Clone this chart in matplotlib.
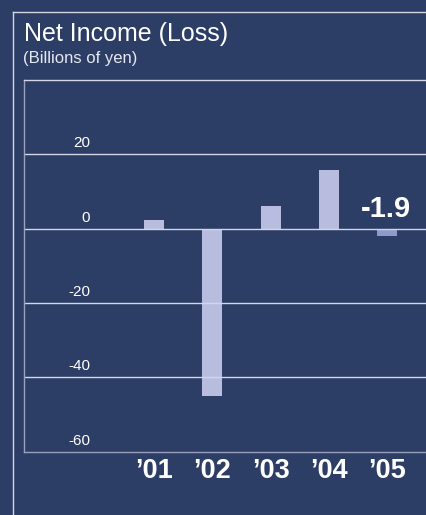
import matplotlib.pyplot as plt
from matplotlib.lines import Line2D
from matplotlib.transforms import blended_transform_factory, offset_copy

# Net income by fiscal year, billions of yen
years = ["\u201901", "\u201902", "\u201903", "\u201904", "\u201905"]
net_income = [2.4, -44.9, 6.2, 15.7, -1.9]
yticks = [20, 0, -20, -40, -60]

bg = "#2c3d66"
bar_col = "#b8bde0"
last_col = "#8f99cc"
line_col = "#d4d7e3"

plt.rcParams["font.family"] = ["Liberation Sans", "DejaVu Sans"]

fig = plt.figure(figsize=(4.27, 5.15), dpi=100, facecolor=bg)
ax = fig.add_axes([0.0562, 0.1229, 0.9438, 0.7218], facecolor=bg)

x = list(range(len(years)))
colors = [bar_col] * (len(years) - 1) + [last_col]
ax.bar(x, net_income, width=0.343, color=colors, zorder=1)

ax.set_xlim(-2.23, 4.68)
ax.set_ylim(-60, 40)

# horizontal rules
for v in [20, 0, -20, -40]:
    ax.axhline(v, color=line_col, lw=1.0, zorder=2)

ax.spines["right"].set_visible(False)
ax.spines["top"].set_color(line_col)
ax.spines["left"].set_color("#9aa1bd")
ax.spines["bottom"].set_color("#9aa1bd")
for side in ["top", "left", "bottom"]:
    ax.spines[side].set_linewidth(1.0)
ax.set_xticks([])
ax.set_yticks([])

# tick labels sit above their rule
trans = blended_transform_factory(fig.transFigure, ax.transData)
trans = offset_copy(trans, fig=fig, x=0, y=4, units="dots")
for v in yticks:
    ax.text(90 / 427, v, str(v), transform=trans, ha="right", va="bottom",
            color="white", fontsize=11)

# year labels
for xi, lab in zip(x, years):
    ax.text(xi, -60, lab, transform=offset_copy(ax.transData, fig=fig, y=-6, units="dots"),
            ha="center", va="top", color="white", fontsize=19.5, fontweight="bold")

# value callout for the latest year
ax.text(x[-1] - 0.03, 0, f"{net_income[-1]:.1f}",
        transform=offset_copy(ax.transData, fig=fig, y=6, units="dots"),
        ha="center", va="bottom", color="white", fontsize=21, fontweight="bold")

# titles
fig.text(24 / 427, 1 - 41 / 515, "Net Income (Loss)", color="white", fontsize=18,
         ha="left", va="baseline")
fig.text(23 / 427, 1 - 63 / 515, "(Billions of yen)", color="#e6e8f0", fontsize=12,
         ha="left", va="baseline")

# outer frame
fig.add_artist(Line2D([13 / 427, 13 / 427], [0, 1 - 12 / 515], color=line_col, lw=1.0,
                      transform=fig.transFigure))
fig.add_artist(Line2D([13 / 427, 1], [1 - 12 / 515, 1 - 12 / 515], color=line_col, lw=1.0,
                      transform=fig.transFigure))

fig.savefig("out.png", dpi=100, facecolor=bg)
